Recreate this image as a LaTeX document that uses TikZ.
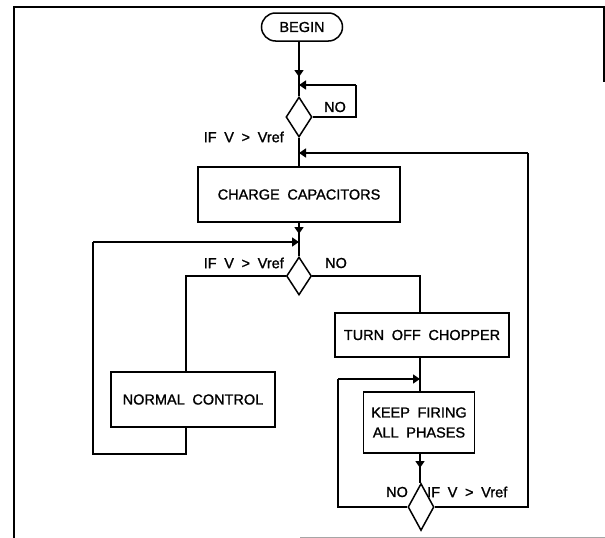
\documentclass[tikz,border=0pt]{standalone}
\usepackage{fontspec}
\setmainfont{Liberation Sans}[WordSpace={1.9,1,1}, FakeBold=1.2]
\usetikzlibrary{shapes.geometric,arrows.meta}
\begin{document}
\begin{tikzpicture}[x=1pt,y=-1pt,
  ln/.style={line width=1.5pt, line join=miter},
  box/.style={draw, ln, rectangle, inner sep=0pt, font=\fontsize{14.5}{17}\selectfont},
  dec/.style={draw, ln, diamond, inner sep=0pt},
  lbl/.style={inner sep=0pt, font=\fontsize{14.5}{17}\selectfont},
  arr/.style={ln, -{Triangle[length=7pt,width=9pt]}},
  frm/.style={line width=1.5pt}]
\useasboundingbox (0,0) rectangle (605,538);
% frame
\draw[frm] (14,538) -- (14,7) -- (604,7) -- (604,82);
\draw[line width=1pt, black!35] (300,537) -- (605,537);
% nodes
\node[box, rounded corners=14pt, minimum width=81pt, minimum height=28pt] (begin) at (302,27) {BEGIN};
\node[dec, minimum width=26pt, minimum height=40pt] (d1) at (299,117) {};
\node[box, minimum width=202pt, minimum height=55pt] (charge) at (299,194.5) {CHARGE CAPACITORS};
\node[dec, minimum width=25pt, minimum height=38pt] (d2) at (299,276) {};
\node[box, minimum width=164pt, minimum height=55pt] (normal) at (193,399.5) {NORMAL CONTROL};
\node[box, minimum width=174pt, minimum height=44pt] (chopper) at (422,335) {TURN OFF CHOPPER};
\node[box, minimum width=111pt, minimum height=61pt, align=center] (keep) at (419,422.5) {KEEP FIRING\\[3pt]ALL PHASES};
\node[dec, minimum width=26pt, minimum height=47pt] (d3) at (421,507) {};
% labels
\node[lbl] (no1) at (335,107) {NO};
\node[lbl, anchor=east] (if1) at (284,137) {IF V > Vref};
\node[lbl, anchor=east] (if2) at (284,263) {IF V > Vref};
\node[lbl] (no2) at (336,263) {NO};
\node[lbl] (no3) at (397,492) {NO};
\node[lbl, anchor=west] (if3) at (427,492) {IF V > Vref};
% coordinates
\coordinate (a1s) at (299,66);
\coordinate (a1t) at (299,77);
\coordinate (j1) at (299,85);
\coordinate (r1) at (356,117);
\coordinate (r1t) at (356,85);
\coordinate (j2) at (299,153);
\coordinate (a2s) at (299,224);
\coordinate (a2t) at (299,234);
\coordinate (j3) at (299,242);
\coordinate (l2) at (186,276);
\coordinate (rr2) at (420,276);
\coordinate (nb) at (186,454);
\coordinate (lb) at (93,454);
\coordinate (lt) at (93,242);
\coordinate (j4) at (420,379);
\coordinate (kl) at (338,379);
\coordinate (a3s) at (420,457);
\coordinate (a3t) at (420,468);
\coordinate (dl) at (338,507);
\coordinate (dr) at (528,507);
\coordinate (rt) at (528,153);
% connectors
\draw[ln] (begin.south -| d1.north) -- (d1.north);
\draw[arr] (a1s) -- (a1t);
\draw[ln] (d1.east) -- (r1) -- (r1t);
\draw[arr] (r1t) -- (j1);
\draw[ln] (d1.south) -- (charge.north);
\draw[ln] (charge.south) -- (d2.north);
\draw[arr] (a2s) -- (a2t);
\draw[ln] (d2.west) -- (l2) -- (l2 |- normal.north);
\draw[ln] (d2.east) -- (rr2) -- (rr2 |- chopper.north);
\draw[ln] (nb |- normal.south) -- (nb) -- (lb) -- (lt);
\draw[arr] (lt) -- (j3);
\draw[ln] (rr2 |- chopper.south) -- (rr2 |- keep.north);
\draw[ln] (rr2 |- keep.south) -- (rr2 |- d3.north);
\draw[arr] (a3s) -- (a3t);
\draw[ln] (d3.west) -- (dl) -- (kl);
\draw[arr] (kl) -- (j4);
\draw[ln] (d3.east) -- (dr) -- (rt);
\draw[arr] (rt) -- (j2);
\end{tikzpicture}
\end{document}
